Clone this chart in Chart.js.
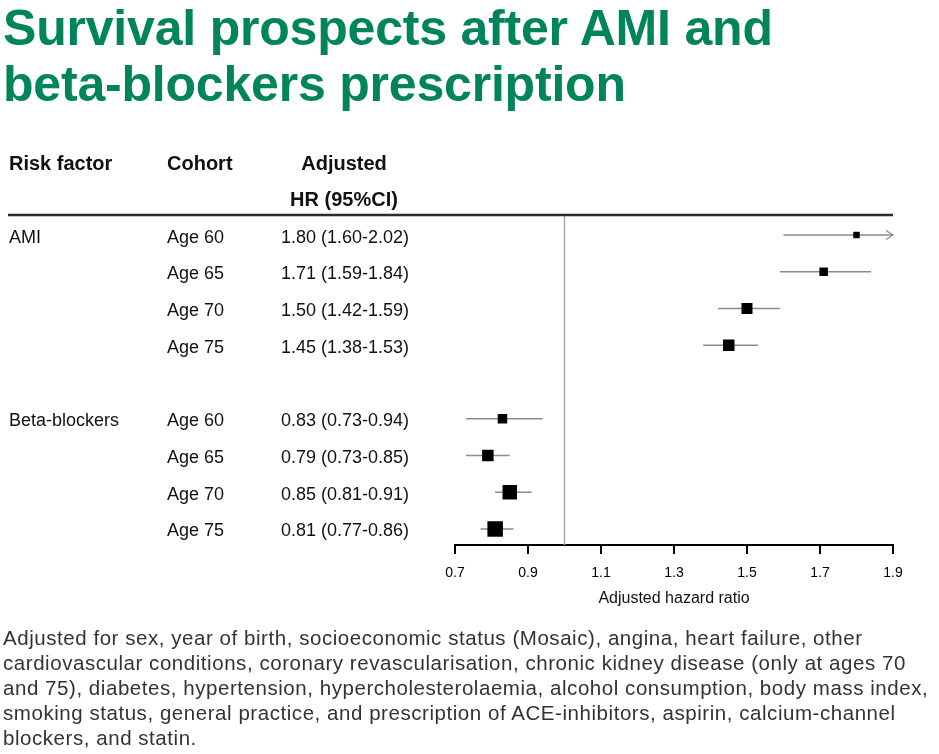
<!DOCTYPE html>
<html>
<head>
<meta charset="utf-8">
<script src="https://cdn.jsdelivr.net/npm/chart.js@4.4.1/dist/chart.umd.min.js"></script>
<style>
  html, body { margin: 0; padding: 0; background: #fff; }
  #wrap { position: relative; width: 939px; height: 754px; overflow: hidden;
          font-family: "Liberation Sans", Arial, Helvetica, sans-serif; }
  #chartBox { position: absolute; left: 0; top: 0; width: 939px; height: 754px; }
  #title { position: absolute; left: 3px; top: 0px; margin: 0; font-weight: bold; font-size: 50px;
           line-height: 56px; color: #00855a; white-space: nowrap; letter-spacing: -0.2px; }
  #note { position: absolute; left: 3px; top: 625px; margin: 0; font-size: 20.5px; line-height: 25px;
          letter-spacing: 0.55px; color: #333; white-space: nowrap; }
</style>
</head>
<body>
<div id="wrap">
  <div id="chartBox"><canvas id="c"></canvas></div>
  <h1 id="title">Survival prospects after AMI and<br>beta-blockers prescription</h1>
  <p id="note">Adjusted for sex, year of birth, socioeconomic status (Mosaic), angina, heart failure, other<br>cardiovascular conditions, coronary revascularisation, chronic kidney disease (only at ages 70<br>and 75), diabetes, hypertension, hypercholesterolaemia, alcohol consumption, body mass index,<br>smoking status, general practice, and prescription of ACE-inhibitors, aspirin, calcium-channel<br>blockers, and statin.</p>
</div>
<script>
// ---- data ----
const riskFactors = ['AMI', 'Beta-blockers'];
const cohorts = ['Age 60', 'Age 65', 'Age 70', 'Age 75'];
const amiHR   = [1.80, 1.71, 1.50, 1.45];
const amiLow  = [1.60, 1.59, 1.42, 1.38];
const amiHigh = [2.02, 1.84, 1.59, 1.53];
const bbHR    = [0.83, 0.79, 0.85, 0.81];
const bbLow   = [0.73, 0.73, 0.81, 0.77];
const bbHigh  = [0.94, 0.85, 0.91, 0.86];
const xTicks = [0.7, 0.9, 1.1, 1.3, 1.5, 1.7, 1.9];
const xTickLabels = ['0.7', '0.9', '1.1', '1.3', '1.5', '1.7', '1.9'];
const referenceHR = 1.0;
const headerCols = ['Risk factor', 'Cohort', 'Adjusted', 'HR (95%CI)'];
const xAxisTitle = 'Adjusted hazard ratio';

// ---- styles ----
const FONT = '"Liberation Sans", Arial, Helvetica, sans-serif';
const markerSide = [[6.5, 8.5, 11, 11.5], [9.5, 11.5, 14.5, 15.5]];

const groups = [
  { name: riskFactors[0], hr: amiHR, lo: amiLow, hi: amiHigh },
  { name: riskFactors[1], hr: bbHR,  lo: bbLow,  hi: bbHigh }
];
const rowsPerGroup = cohorts.length + 1; // blank spacer row between groups
const rows = [];
groups.forEach((g, gi) => g.hr.forEach((v, ci) => rows.push({
  group: gi, cohort: ci, y: gi * rowsPerGroup + ci, hr: v, lo: g.lo[ci], hi: g.hi[ci],
  label: v.toFixed(2) + ' (' + g.lo[ci].toFixed(2) + '-' + g.hi[ci].toFixed(2) + ')'
})));

const pointData = rows.map(r => ({ x: r.hr, y: r.y }));
const pointRadii = rows.map(r => markerSide[r.group][r.cohort] / Math.SQRT2);
const ciData = [];
rows.forEach(r => { ciData.push({ x: r.lo, y: r.y }, { x: r.hi, y: r.y }, { x: r.hi, y: null }); });

const decor = {
  id: 'decor',
  beforeDatasetsDraw(chart) {
    const { ctx, chartArea: a, scales: { x } } = chart;
    const px = x.getPixelForValue(referenceHR);
    ctx.save();
    ctx.strokeStyle = '#a8a8a8';
    ctx.lineWidth = 1.5;
    ctx.beginPath(); ctx.moveTo(px, a.top); ctx.lineTo(px, a.bottom); ctx.stroke();
    ctx.restore();
  },
  afterDraw(chart) {
    const { ctx, chartArea: a, scales: { x, y } } = chart;
    ctx.save();
    ctx.strokeStyle = '#2b2b2b';
    ctx.lineWidth = 2.5;
    ctx.beginPath(); ctx.moveTo(8, a.top); ctx.lineTo(a.right, a.top); ctx.stroke();

    ctx.fillStyle = '#111';
    ctx.textBaseline = 'alphabetic';
    ctx.font = 'bold 20px ' + FONT;
    ctx.textAlign = 'left';
    ctx.fillText(headerCols[0], 9, a.top - 45);
    ctx.fillText(headerCols[1], 167, a.top - 45);
    ctx.textAlign = 'center';
    ctx.fillText(headerCols[2], 344, a.top - 45);
    ctx.fillText(headerCols[3], 344, a.top - 9);

    ctx.font = '18px ' + FONT;
    ctx.textAlign = 'left';
    rows.forEach(r => {
      const py = y.getPixelForValue(r.y) + 7.5;
      if (r.cohort === 0) ctx.fillText(groups[r.group].name, 9, py);
      ctx.fillText(cohorts[r.cohort], 167, py);
      ctx.fillText(r.label, 281, py);
    });

    ctx.strokeStyle = '#8c8c8c';
    ctx.lineWidth = 1.2;
    rows.forEach(r => {
      if (r.hi > x.max) {
        const px = x.getPixelForValue(x.max), py = y.getPixelForValue(r.y);
        ctx.beginPath();
        ctx.moveTo(px - 7, py - 4.5); ctx.lineTo(px, py); ctx.lineTo(px - 7, py + 4.5);
        ctx.stroke();
      }
    });
    ctx.restore();
  }
};

new Chart(document.getElementById('c'), {
  type: 'scatter',
  data: {
    datasets: [
      {
        label: 'HR', data: pointData, order: 0,
        pointStyle: 'rect', pointRadius: pointRadii, pointHoverRadius: pointRadii,
        pointBackgroundColor: '#000', pointBorderWidth: 0, showLine: false
      },
      {
        label: '95% CI', data: ciData, order: 1, showLine: true, spanGaps: false,
        borderColor: '#8c8c8c', borderWidth: 1.5, pointRadius: 0, pointHoverRadius: 0, fill: false
      }
    ]
  },
  options: {
    responsive: true, maintainAspectRatio: false, animation: false,
    layout: { padding: { left: 455, right: 46, top: 215, bottom: 146 } },
    plugins: { legend: { display: false }, tooltip: { enabled: false } },
    scales: {
      y: { type: 'linear', display: false, min: -0.545, max: 8.436, reverse: true },
      x: {
        type: 'linear', position: 'bottom', min: 0.7, max: 1.9,
        afterBuildTicks: s => { s.ticks = xTicks.map(v => ({ value: v })); },
        afterFit: s => { s.height = 63; },
        ticks: { callback: (v, i) => xTickLabels[i], font: { size: 14, family: FONT }, color: '#000',
                 padding: 11, maxRotation: 0, autoSkip: false },
        grid: { drawOnChartArea: false, drawTicks: true, tickLength: 9, color: '#000', lineWidth: 2 },
        border: { display: true, color: '#000', width: 2 },
        title: { display: true, text: xAxisTitle, font: { size: 16, family: FONT }, color: '#111', padding: 0 }
      }
    }
  },
  plugins: [decor]
});
</script>
</body>
</html>
